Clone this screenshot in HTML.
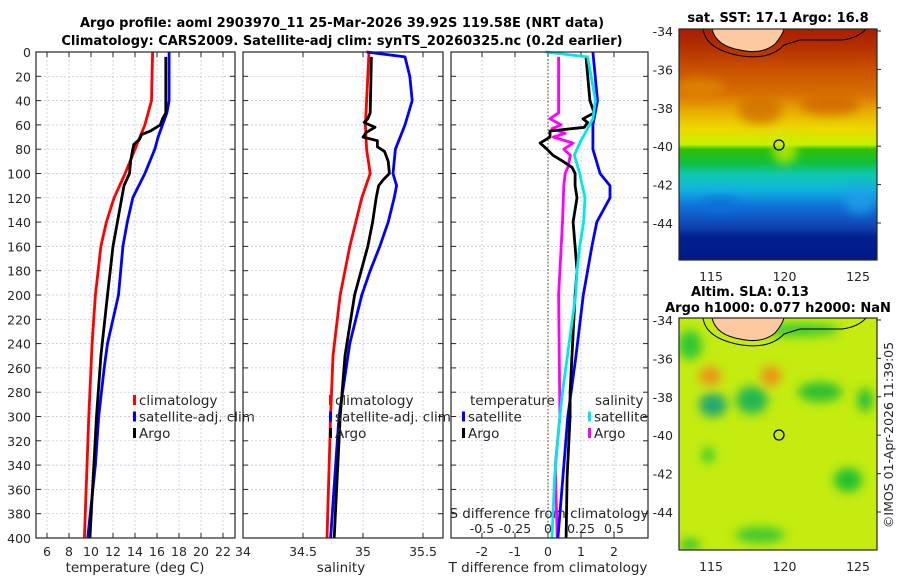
<!DOCTYPE html>
<html><head><meta charset="utf-8">
<style>
body{margin:0;background:#fff;}
svg{display:block;font-family:"DejaVu Sans","Liberation Sans",sans-serif;}
.tk{font-size:12.5px;fill:#262626;}
.ttl{font-size:13px;font-weight:bold;fill:#000;}
.lab{font-size:13.5px;fill:#262626;}
.grid{stroke:#b8c0e0;stroke-width:0.7;stroke-dasharray:2,2;}
.box{fill:none;stroke:#262626;stroke-width:1.2;}
</style></head>
<body>
<svg id="chart" width="900" height="580" viewBox="0 0 900 580" xmlns="http://www.w3.org/2000/svg">
<defs>
<linearGradient id="sstg" x1="0" y1="0" x2="0" y2="1">
<stop offset="0" stop-color="#a81e00"/><stop offset="0.08" stop-color="#b43000"/>
<stop offset="0.17" stop-color="#c85000"/><stop offset="0.28" stop-color="#d87000"/>
<stop offset="0.36" stop-color="#e8b000"/><stop offset="0.43" stop-color="#ecd800"/>
<stop offset="0.5" stop-color="#c8f000"/><stop offset="0.52" stop-color="#30c000"/>
<stop offset="0.58" stop-color="#10c040"/><stop offset="0.63" stop-color="#10c8b0"/>
<stop offset="0.7" stop-color="#10b0e0"/><stop offset="0.77" stop-color="#1070d8"/>
<stop offset="0.86" stop-color="#1040b0"/><stop offset="0.9" stop-color="#00208e"/>
<stop offset="1" stop-color="#001a88"/>
</linearGradient>
<filter id="blur"><feGaussianBlur stdDeviation="5"/></filter>
<clipPath id="c1"><rect x="679" y="29" width="198" height="231"/></clipPath>
<clipPath id="c2"><rect x="679" y="318" width="198" height="232"/></clipPath>
</defs>

<g>
<text class="ttl" x="342" y="27" text-anchor="middle">Argo profile: aoml 2903970_11 25-Mar-2026 39.92S 119.58E (NRT data)</text>
<text class="ttl" x="342" y="45" text-anchor="middle">Climatology: CARS2009. Satellite-adj clim: synTS_20260325.nc (0.2d earlier)</text>
</g>

<g id="panels"></g>

<g>
<text class="ttl" x="778" y="22" text-anchor="middle">sat. SST: 17.1 Argo: 16.8</text>
<g clip-path="url(#c1)">
<rect x="679" y="29" width="198" height="231" fill="url(#sstg)"/>
<g filter="url(#blur)" opacity="0.75">
<ellipse cx="700" cy="88" rx="25" ry="10" fill="#e08800"/>
<ellipse cx="760" cy="110" rx="22" ry="14" fill="#d06a00"/>
<ellipse cx="830" cy="105" rx="30" ry="10" fill="#d06000"/>
<ellipse cx="785" cy="150" rx="12" ry="14" fill="#c8f000"/>
<ellipse cx="720" cy="205" rx="20" ry="8" fill="#1070d8"/>
<ellipse cx="860" cy="200" rx="15" ry="14" fill="#20a0e8"/>
</g>
<path d="M712 29 Q716 46 740 50 Q762 55 775 44 Q782 36 784 29 Z" fill="#fcc9a0"/>
<path d="M703 29 Q706 50 742 56 Q770 60 784 45 L800 40 L842 40 Q858 38 866 29" fill="none" stroke="#000" stroke-width="1"/>
<path d="M712 29 Q716 46 740 50 Q762 55 775 44 Q782 36 784 29" fill="none" stroke="#000" stroke-width="1"/>
</g>
<rect class="box" x="679" y="29" width="198" height="231" stroke-width="1"/>
<circle cx="779" cy="145" r="5" fill="none" stroke="#000" stroke-width="1.3"/>
</g>

<g>
<text class="ttl" x="750" y="296" text-anchor="middle">Altim. SLA: 0.13</text>
<text class="ttl" x="778" y="312" text-anchor="middle">Argo h1000: 0.077 h2000: NaN</text>
<g clip-path="url(#c2)">
<rect x="679" y="318" width="198" height="232" fill="#c4ec10"/>
<g filter="url(#blur)">
<ellipse cx="690" cy="345" rx="12" ry="15" fill="#30c830"/>
<ellipse cx="710" cy="376" rx="11" ry="9" fill="#f09018"/>
<ellipse cx="771" cy="376" rx="10" ry="10" fill="#f09018"/>
<ellipse cx="713" cy="405" rx="14" ry="12" fill="#20a870"/>
<ellipse cx="752" cy="400" rx="16" ry="14" fill="#20b850"/>
<ellipse cx="820" cy="392" rx="22" ry="10" fill="#30c030"/>
<ellipse cx="865" cy="400" rx="8" ry="12" fill="#30c030"/>
<ellipse cx="848" cy="480" rx="14" ry="12" fill="#20c030"/>
<ellipse cx="708" cy="455" rx="6" ry="8" fill="#30c830"/>
<ellipse cx="760" cy="535" rx="25" ry="8" fill="#40c830"/>
<ellipse cx="690" cy="545" rx="10" ry="6" fill="#30c030"/>
<ellipse cx="800" cy="330" rx="40" ry="6" fill="#30c830"/>
</g>
<path d="M712 318 Q716 335 740 339 Q762 344 775 333 Q782 325 784 318 Z" fill="#fcc9a0"/>
<path d="M703 318 Q706 339 742 345 Q770 349 784 334 L800 329 L842 329 Q858 327 866 318" fill="none" stroke="#000" stroke-width="1"/>
<path d="M712 318 Q716 335 740 339 Q762 344 775 333 Q782 325 784 318" fill="none" stroke="#000" stroke-width="1"/>
</g>
<rect class="box" x="679" y="318" width="198" height="232" stroke-width="1"/>
<circle cx="779" cy="435" r="5" fill="none" stroke="#000" stroke-width="1.3"/>
</g>
<text class="tk" transform="translate(893,435) rotate(-90)" text-anchor="middle" font-size="13">©IMOS 01-Apr-2026 11:39:05</text>

<script>
const depthTicks = [0,20,40,60,80,100,120,140,160,180,200,220,240,260,280,300,320,340,360,380,400];
const tempTicks = [6,8,10,12,14,16,18,20,22];
const salTicks = [34,34.5,35,35.5];
const tdiffTicks = [-2,-1,0,1,2];
const sdiffTicks = [-0.5,-0.25,0,0.25,0.5];
const latTicks = [-34,-36,-38,-40,-42,-44];
const lonTicks = [115,120,125];

const tClimDepth = [0,40,60,80,100,120,140,160,200,240,300,400];
const tClimVal   = [15.6,15.5,14.9,14.0,13.1,12.1,11.4,10.9,10.4,10.1,9.8,9.4];
const tSatDepth = [0,40,50,60,70,80,100,120,140,160,180,200,220,240,260,300,340,400];
const tSatVal   = [17.1,17.1,16.9,16.5,16.1,15.8,14.9,13.8,13.3,12.9,12.7,12.5,12.0,11.5,11.2,10.7,10.4,9.7];
const tArgoDepth = [4,50,55,60,65,68,72,76,80,90,100,110,120,140,160,200,250,300,350,400];
const tArgoVal   = [16.8,16.8,16.5,16.3,15.4,14.6,14.4,13.9,13.8,13.6,13.5,13.0,12.8,12.4,12.0,11.5,10.9,10.5,10.2,9.9];

const sClimDepth = [0,60,80,100,120,160,200,250,300,400];
const sClimVal   = [35.05,35.02,35.03,35.06,34.99,34.89,34.81,34.75,34.73,34.70];
const sSatDepth = [0,4,20,40,60,80,100,110,120,140,160,180,200,240,280,300,400];
const sSatVal   = [35.03,35.35,35.39,35.41,35.35,35.27,35.25,35.28,35.26,35.21,35.14,35.06,34.99,34.89,34.83,34.80,34.73];
const sArgoDepth = [4,50,55,58,62,66,70,73,78,82,90,100,105,110,120,140,160,200,250,300,400];
const sArgoVal   = [35.07,35.06,35.04,35.01,35.10,35.03,35.0,35.12,35.12,35.18,35.21,35.22,35.17,35.13,35.11,35.08,35.04,34.93,34.85,34.81,34.76];

const dTSatDepth = [0,40,60,80,100,110,120,140,160,180,200,250,300,350,400];
const dTSatVal   = [1.36,1.5,1.36,1.36,1.58,1.88,1.88,1.48,1.33,1.2,1.07,0.85,0.6,0.45,0.3];
const dTArgoDepth = [4,40,50,55,58,62,65,70,75,80,85,90,95,100,110,120,140,160,180,200,280,300,350,400];
const dTArgoVal   = [1.15,1.27,1.4,1.06,1.2,1.1,0.06,0.06,-0.24,-0.03,0.15,0.45,0.73,0.82,0.82,0.88,0.76,0.82,0.88,0.82,0.67,0.67,0.58,0.55];
const dSSatDepth = [0,4,40,55,65,75,85,100,120,140,160,180,200,280,300,350,400];
const dSSatVal   = [-0.02,0.3,0.36,0.34,0.29,0.24,0.2,0.24,0.28,0.27,0.24,0.22,0.21,0.11,0.09,0.05,0.03];
const dSArgoDepth = [4,50,55,60,63,67,70,75,80,85,95,100,110,140,200,300,340,400];
const dSArgoVal   = [0.08,0.08,0.015,0.1,0.03,0.13,0.04,0.19,0.12,0.17,0.15,0.13,0.12,0.11,0.08,0.09,0.055,0.07];

const Y0=52, Y1=538;
const yD = d => Y0 + d*(Y1-Y0)/400;
const xT = t => 36 + (t-5)*11;
const xS = s => 243 + (s-34)*120;
const xDT = t => 548 + t*33;
const xDS = s => 548 + s*132;
const latY1 = l => 29 + (-34-l)*19.2 + 2;
const latY2 = l => 320 + (-34-l)*19.2;
const lonX = l => 711 + (l-115)*14.7;

const NS='http://www.w3.org/2000/svg';
const root=document.getElementById('panels');
function mk(tag,attrs,parent){const e=document.createElementNS(NS,tag);for(const k in attrs)e.setAttribute(k,attrs[k]);(parent||root).appendChild(e);return e;}
function txt(x,y,s,cls,anchor,parent){const e=mk('text',{x:x,y:y,class:cls,'text-anchor':anchor||'middle'},parent);e.textContent=s;return e;}

const panels=[{x0:36,x1:235,name:'temperature-panel'},{x0:243,x1:443,name:'salinity-panel'},{x0:451,x1:648,name:'difference-panel'}];
panels.forEach(p=>{
  const g=mk('g',{});
  
  
  p.g=g;
  depthTicks.forEach(d=>{
    mk('line',{x1:p.x0,x2:p.x1,y1:yD(d),y2:yD(d),class:'grid'},g);
    mk('line',{x1:p.x0,x2:p.x0+5,y1:yD(d),y2:yD(d),stroke:'#262626'},g);
    mk('line',{x1:p.x1-5,x2:p.x1,y1:yD(d),y2:yD(d),stroke:'#262626'},g);
  });
});
const yl=mk('g',{});


depthTicks.forEach(d=>{txt(31,yD(d)+5,String(d),'tk','end',yl);});

function xgrid(p,ticks,fx,labels){
  ticks.forEach(t=>{
    const x=fx(t);
    mk('line',{x1:x,x2:x,y1:Y0,y2:Y1,class:'grid'},p.g);
    mk('line',{x1:x,x2:x,y1:Y1,y2:Y1-5,stroke:'#262626'},p.g);
    mk('line',{x1:x,x2:x,y1:Y0,y2:Y0+5,stroke:'#262626'},p.g);
    if(labels) txt(x,Y1+18,String(t),'tk','middle',p.g);
  });
}
xgrid(panels[0],tempTicks,xT,true);
xgrid(panels[1],[34.5,35,35.5],xS,true);
txt(243,Y1+18,'34','tk','middle',panels[1].g);
xgrid(panels[2],tdiffTicks,xDT,true);
mk('line',{x1:548,x2:548,y1:Y0,y2:Y1,stroke:'#666633','stroke-dasharray':'1.5,2','stroke-width':1.2},panels[2].g);
sdiffTicks.forEach(s=>txt(xDS(s),Y1-5,String(s),'tk','middle',panels[2].g));
txt(549,Y1-20,'S difference from climatology','lab','middle',panels[2].g);

txt(135,572,'temperature (deg C)','lab','middle',panels[0].g);
txt(341,572,'salinity','lab','middle',panels[1].g);
txt(548,572,'T difference from climatology','lab','middle',panels[2].g);

function line(p,depths,vals,fx,color,name){
  const d=depths.map((dd,i)=>(i?'L':'M')+fx(vals[i]).toFixed(1)+' '+yD(dd).toFixed(1)).join(' ');
  const e=mk('path',{d:d,fill:'none',stroke:color,'stroke-width':2.8,'stroke-linejoin':'round'},p.g);
  
  
}
line(panels[0],tClimDepth,tClimVal,xT,'#ff0000','temp-climatology-line');
line(panels[0],tSatDepth,tSatVal,xT,'#0000ff','temp-satellite-line');
line(panels[0],tArgoDepth,tArgoVal,xT,'#000000','temp-argo-line');
line(panels[1],sClimDepth,sClimVal,xS,'#ff0000','sal-climatology-line');
line(panels[1],sSatDepth,sSatVal,xS,'#0000ff','sal-satellite-line');
line(panels[1],sArgoDepth,sArgoVal,xS,'#000000','sal-argo-line');
line(panels[2],dSArgoDepth,dSArgoVal,xDS,'#ff00ff','sdiff-argo-line');
line(panels[2],dTSatDepth,dTSatVal,xDT,'#0000ff','tdiff-satellite-line');
line(panels[2],dTArgoDepth,dTArgoVal,xDT,'#000000','tdiff-argo-line');
line(panels[2],dSSatDepth,dSSatVal,xDS,'#00e8e8','sdiff-satellite-line');

panels.forEach(p=>mk('rect',{x:p.x0,y:Y0,width:p.x1-p.x0,height:Y1-Y0,class:'box'},p.g));

function legend(p,x,y,items,name){
  const g=mk('g',{},p.g);
  
  
  items.forEach((it,i)=>{
    const yy=y+i*16.5;
    mk('rect',{x:x,y:yy-10,width:3,height:10,fill:it[1]},g);
    txt(x+6,yy,it[0],'lab','start',g);
  });
}
legend(panels[0],133,405,[['climatology','#ff0000'],['satellite-adj. clim','#0000ff'],['Argo','#000000']],'temp-legend');
legend(panels[1],329,405,[['climatology','#ff0000'],['satellite-adj. clim','#0000ff'],['Argo','#000000']],'sal-legend');
txt(470,405,'temperature','lab','start',panels[2].g);
txt(595,405,'salinity','lab','start',panels[2].g);
legend(panels[2],462,421.5,[['satellite','#0000ff'],['Argo','#000000']],'tdiff-legend');
legend(panels[2],588,421.5,[['satellite','#00e8e8'],['Argo','#ff00ff']],'sdiff-legend');

const mt=mk('g',{},document.getElementById('chart'));


latTicks.forEach(l=>{
  txt(673,latY1(l)+5,String(l),'tk','end',mt);
  txt(673,latY2(l)+5,String(l),'tk','end',mt);
  mk('line',{x1:877,x2:881,y1:latY1(l),y2:latY1(l),stroke:'#262626'},mt);
  mk('line',{x1:877,x2:881,y1:latY2(l),y2:latY2(l),stroke:'#262626'},mt);
});
lonTicks.forEach(l=>{
  txt(lonX(l),281,String(l),'tk','middle',mt);
  txt(lonX(l),571,String(l),'tk','middle',mt);
});
</script>
</svg>
</body></html>
